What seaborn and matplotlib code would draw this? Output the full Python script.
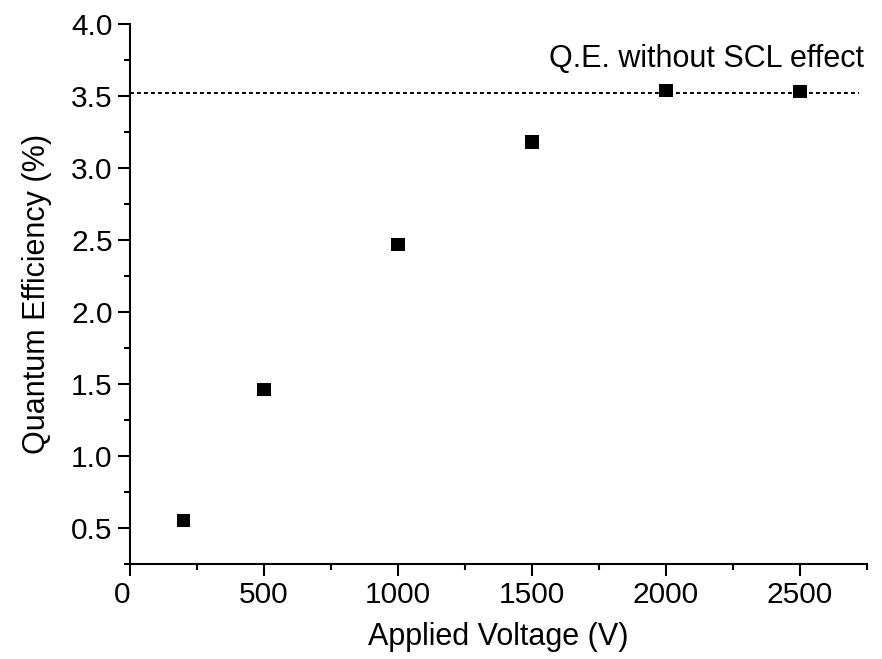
import numpy as np
import pandas as pd
import matplotlib
matplotlib.use("Agg")
import matplotlib.pyplot as plt
import seaborn as sns
from matplotlib.ticker import MultipleLocator, FormatStrFormatter

# Data
voltage = [200, 500, 1000, 1500, 2000, 2500]
qe = [0.55, 1.46, 2.47, 3.18, 3.54, 3.53]
qe_ref = 3.523
ref_label = "Q.E. without SCL effect"
x_ticks = [0, 500, 1000, 1500, 2000, 2500]

df = pd.DataFrame({"Applied Voltage (V)": voltage, "Quantum Efficiency (%)": qe})

sns.set_theme(style="ticks")
plt.rcParams.update({
    "font.family": ["Liberation Sans", "DejaVu Sans"],
    "font.size": 21,
    "axes.linewidth": 1.5,
    "xtick.major.width": 1.5,
    "ytick.major.width": 1.5,
    "xtick.minor.width": 1.5,
    "ytick.minor.width": 1.5,
    "xtick.major.size": 8.5,
    "ytick.major.size": 8.5,
    "xtick.minor.size": 4.5,
    "ytick.minor.size": 4.5,
    "xtick.labelsize": 21.5,
    "ytick.labelsize": 21.5,
    "axes.labelsize": 22,
    "text.color": "black",
    "axes.labelcolor": "black",
    "xtick.color": "black",
    "ytick.color": "black",
    "axes.edgecolor": "black",
})

fig = plt.figure(figsize=(8.82, 6.59), dpi=100)
ax = fig.add_axes([0.1474, 0.1442, 0.8356, 0.8194])

ax.hlines(qe_ref, 0, 2720, colors="black", linestyles=(0, (2, 1.6)), linewidth=1.4, zorder=1)
sns.scatterplot(data=df, x="Applied Voltage (V)", y="Quantum Efficiency (%)",
                marker="s", s=90, color="black", edgecolor="none", ax=ax, zorder=3)

ax.set_xlim(0, 2750)
ax.set_ylim(0.25, 4.0)
ax.set_xticks(x_ticks)
ax.xaxis.set_minor_locator(MultipleLocator(250))
ax.yaxis.set_major_locator(MultipleLocator(0.5))
ax.yaxis.set_minor_locator(MultipleLocator(0.25))
ax.yaxis.set_major_formatter(FormatStrFormatter("%.1f"))
ax.tick_params(which="both", direction="out")
ax.tick_params(axis="x", pad=4)
ax.tick_params(axis="y", pad=4)

sns.despine(ax=ax)
ax.xaxis.labelpad = 9
ax.yaxis.labelpad = 14

# the "0" label sits just left of its tick in the reference
ax.get_xticklabels()[0].set_horizontalalignment("right")

ax.text(2740, 3.70, ref_label, ha="right", va="baseline", fontsize=22)

fig.savefig("out.png", dpi=100)
